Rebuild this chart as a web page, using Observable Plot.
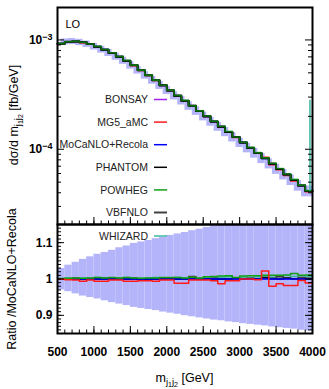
<!DOCTYPE html>
<html><head><meta charset="utf-8">
<script src="https://cdn.jsdelivr.net/npm/d3@7"></script>
<script src="https://cdn.jsdelivr.net/npm/@observablehq/plot@0.6"></script>
<style>
body{margin:0;background:#fff;font-family:"Liberation Sans",Arial,Helvetica,sans-serif;}
#wrap{position:relative;width:329px;height:389px;overflow:hidden;background:#fff;}
#wrap svg{position:absolute;left:0;}
.ttl{position:absolute;font-size:12.5px;white-space:nowrap;color:#000;line-height:1;}
.ttl sub{font-size:0.75em;vertical-align:-0.3em;line-height:0;}
</style></head><body>
<div id="wrap"></div>
<script>
// ---- data ----
const binEdges = [500,600,700,800,900,1000,1100,1200,1300,1400,1500,1600,1700,1800,1900,2000,2100,2200,2300,2400,2500,2600,2700,2800,2900,3000,3100,3200,3300,3400,3500,3600,3700,3800,3900,4000];
const central = [9.25e-4,9.61e-4,9.69e-4,9.51e-4,9.15e-4,8.68e-4,8.15e-4,7.60e-4,7.03e-4,6.46e-4,5.86e-4,5.28e-4,4.75e-4,4.28e-4,3.84e-4,3.45e-4,3.09e-4,2.78e-4,2.49e-4,2.24e-4,2.00e-4,1.79e-4,1.61e-4,1.44e-4,1.29e-4,1.15e-4,1.03e-4,9.23e-5,8.25e-5,7.38e-5,6.60e-5,5.87e-5,5.23e-5,4.65e-5,4.14e-5];
// ratio-panel uncertainty band (relative)
const bandLow = [0.970,0.965,0.959,0.953,0.949,0.945,0.940,0.935,0.931,0.927,0.922,0.919,0.916,0.913,0.909,0.906,0.903,0.899,0.896,0.893,0.890,0.887,0.885,0.882,0.880,0.877,0.875,0.873,0.871,0.868,0.866,0.864,0.862,0.859,0.857];
const bandHigh = [1.029,1.038,1.046,1.054,1.061,1.068,1.073,1.079,1.086,1.091,1.098,1.102,1.106,1.111,1.115,1.120,1.124,1.128,1.133,1.137,1.142,1.146,1.151,1.155,1.159,1.163,1.167,1.171,1.175,1.179,1.183,1.187,1.191,1.195,1.199];
// upper-panel error boxes: relative half-height
const topBoxHalf = [0.062,0.064,0.065,0.067,0.068,0.070,0.071,0.073,0.074,0.076,0.077,0.079,0.080,0.082,0.083,0.085,0.086,0.088,0.089,0.091,0.092,0.094,0.095,0.097,0.098,0.100,0.101,0.103,0.104,0.106,0.107,0.109,0.110,0.112,0.113];

const ratioBONSAY = [0.999,1.000,0.999,1.001,1.000,0.999,1.000,1.001,0.999,1.000,1.000,0.999,1.001,1.000,0.999,1.000,1.001,0.999,1.000,1.001,0.999,1.000,1.001,1.000,0.999,1.001,1.000,0.999,1.002,1.000,0.999,1.001,1.000,0.999,1.000];
const ratioMG5 = [0.999,0.998,0.997,0.994,0.997,0.994,0.994,0.997,0.997,0.994,0.994,0.995,0.995,0.994,0.997,0.997,0.988,0.988,0.997,0.997,0.997,0.995,0.987,0.995,0.995,1.000,1.000,0.998,1.022,0.980,0.987,0.982,0.982,0.996,0.989];
const ratioMoCaNLO = [1,1,1,1,1,1,1,1,1,1,1,1,1,1,1,1,1,1,1,1,1,1,1,1,1,1,1,1,1,1,1,1,1,1,1];
const ratioPHANTOM = [1.000,1.001,0.999,1.000,1.001,1.000,1.000,1.001,1.000,0.999,1.000,1.001,1.000,1.000,1.001,1.000,0.999,1.001,1.002,1.000,1.001,1.000,0.999,1.001,1.002,1.000,1.001,1.000,1.003,1.001,1.000,1.002,1.001,1.000,1.001];
const ratioPOWHEG = [1.001,1.002,1.003,1.002,1.003,1.004,1.003,1.004,1.003,1.004,1.003,1.002,1.003,1.003,1.004,1.004,1.004,1.003,1.005,1.003,1.006,1.007,1.008,1.009,1.004,1.008,1.009,1.009,1.010,1.010,1.010,1.011,1.015,1.010,1.011];
const ratioVBFNLO = [1.001,1.000,1.002,1.000,0.999,1.001,1.002,1.000,1.001,1.000,1.002,1.000,0.999,1.001,1.000,1.002,1.001,1.000,1.007,1.001,1.000,1.002,1.001,0.999,1.003,1.001,1.002,1.000,1.004,1.002,1.006,1.003,1.001,1.004,1.002];
const ratioWHIZARD = [1.002,1.003,1.002,1.003,1.002,1.004,1.003,1.002,1.003,1.004,1.003,1.002,1.003,1.004,1.003,1.002,1.004,1.003,1.005,1.002,1.004,1.003,1.004,1.006,1.003,1.005,1.004,1.006,1.007,1.005,1.006,1.004,1.007,1.005,1.006];
const whizardSpike = [{x: 3965, y1: 4.14e-5, y2: 2.8e-4}];

const seriesNames = ["BONSAY","MG5_aMC","MoCaNLO+Recola","PHANTOM","POWHEG","VBFNLO","WHIZARD"];
const seriesColors = ["#a020f0","#ff1a1a","#0000ff","#000000","#10a010","#404040","#3cb8a0"];
const seriesRatios = [ratioBONSAY,ratioMG5,ratioMoCaNLO,ratioPHANTOM,ratioPOWHEG,ratioVBFNLO,ratioWHIZARD];

const xTickLabels = [500,1000,1500,2000,2500,3000,3500,4000];
const yTopTicks = [1e-4,1e-3];
const yBottomTicks = [0.9,1,1.1];

// ---- derived tables ----
const bins = central.map((v,i)=>{
  const c = i+1 < central.length ? central[i+1] : v;
  return {lo: binEdges[i], hi: binEdges[i+1], v, bl: bandLow[i], bh: bandHigh[i],
          t1: c*(1-topBoxHalf[i]), t2: c*(1+topBoxHalf[i])};
});
function stepPts(r){
  const pts = r.map((q,i)=>({x: binEdges[i], r: q, y: central[i]*q}));
  const n = r.length-1;
  pts.push({x: binEdges[n+1], r: r[n], y: central[n]*r[n]});
  return pts;
}
const S = {}; seriesNames.forEach((n,i)=>S[n] = {pts: stepPts(seriesRatios[i]), color: seriesColors[i]});

const band = "#b4b4fb";
const W = 329, ML = 57, MR = 17;
const xMinor = d3.range(500, 4001, 100);
const yTopMinor = []; [1e-5,1e-4,1e-3].forEach(b=>{for(let k=2;k<=9;k++){const v=k*b; if(v>2.05e-5 && v<1.98e-3) yTopMinor.push(v);}});
const yBotMinor = d3.range(86,115).map(d=>d/100);
const font = '"Liberation Sans", Arial, Helvetica, sans-serif';
const halfBin = 50;

const topH = 224, topMT = 7, topIH = topH - topMT, IW = W-ML-MR;
function ticks(xMaj, xMin, yMaj, yMin, ih){
  return [
    Plot.ruleX(xMaj, {insetTop: ih-7, stroke:"#000", strokeWidth:1}),
    Plot.ruleX(xMin, {insetTop: ih-3.5, stroke:"#000", strokeWidth:1}),
    Plot.ruleY(yMaj, {insetRight: IW-7, stroke:"#000", strokeWidth:1}),
    Plot.ruleY(yMaj, {insetLeft: IW-7, stroke:"#000", strokeWidth:1}),
    Plot.ruleY(yMin, {insetRight: IW-4, stroke:"#000", strokeWidth:1}),
    Plot.ruleY(yMin, {insetLeft: IW-4, stroke:"#000", strokeWidth:1})
  ];
}
const topOrder = ["BONSAY","MG5_aMC","MoCaNLO+Recola","WHIZARD","VBFNLO","PHANTOM","POWHEG"];
const topPlot = Plot.plot({
  width: W, height: topH, marginLeft: ML, marginRight: MR, marginTop: topMT, marginBottom: 0,
  x: {domain: [500,4000], axis: null},
  y: {type: "log", domain: [2.05e-5, 1.98e-3], axis: null},
  style: {fontFamily: font, fontSize: "12px", background: "transparent", overflow: "visible"},
  marks: [
    Plot.rect(bins, {x1: d=>d.lo+halfBin, x2: d=>d.hi+halfBin, y1: "t1", y2: "t2", fill: band, clip: true}),
    ...topOrder.map(n=>Plot.line(S[n].pts, {x:"x", y:"y", curve:"step-after", stroke: S[n].color,
       strokeWidth: n==="PHANTOM"?2:1.6, strokeOpacity: n==="POWHEG"?0.7:1})),
    Plot.ruleX(whizardSpike, {x:"x", y1:"y1", y2:"y2", stroke: seriesColors[6], strokeWidth: 1.5}),
    ...ticks(xTickLabels, xMinor, yTopTicks, yTopMinor, topIH),
    Plot.axisY({ticks: yTopTicks, tickSize: 0, tickPadding: 5, fontWeight: "bold", fontSize: 12, tickFormat: d=>"10^"+Math.round(Math.log10(d)), label: null}),
    Plot.text(["LO"], {frameAnchor:"top-left", dx: 8, dy: 13, fontSize: 11, text: d=>d}),
    Plot.frame({stroke:"#000", strokeWidth: 2})
  ]
});

const botH = 165, botMB = 56, botIH = botH - botMB;
const botOrder = ["WHIZARD","BONSAY","VBFNLO","PHANTOM","MoCaNLO+Recola","POWHEG","MG5_aMC"];
const botPlot = Plot.plot({
  width: W, height: botH, marginLeft: ML, marginRight: MR, marginTop: 0, marginBottom: botMB,
  x: {domain: [500,4000], axis: null},
  y: {domain: [0.85,1.15], axis: null},
  style: {fontFamily: font, fontSize: "12px", background: "transparent", overflow: "visible"},
  marks: [
    Plot.rect(bins, {x1:"lo", x2:"hi", y1: "bl", y2: "bh", fill: band, clip: true}),
    ...botOrder.map(n=>Plot.line(S[n].pts, {x:"x", y:"r", curve:"step-after", stroke: S[n].color,
       strokeWidth: 1.5, clip: true})),
    ...ticks(xTickLabels, xMinor, yBottomTicks, yBotMinor, botIH),
    Plot.axisX({ticks: xTickLabels, tickSize: 0, tickPadding: 14, fontWeight: "bold", fontSize: 12, label: null, tickFormat: d=>String(d)}),
    Plot.axisY({ticks: yBottomTicks, tickSize: 0, tickPadding: 5, fontWeight: "bold", fontSize: 12, label: null, tickFormat: d=>String(d)}),
    Plot.frame({stroke:"#000", strokeWidth: 2})
  ]
});

const wrap = document.getElementById("wrap");
topPlot.style.top = "0px"; botPlot.style.top = topH + "px";
wrap.appendChild(botPlot); wrap.appendChild(topPlot);

// superscript exponents
d3.select(topPlot).selectAll('g[aria-label="y-axis tick label"] text').each(function(){
  const t = this.textContent; if (!t.includes("^")) return;
  const [b,e] = t.split("^");
  const sel = d3.select(this); sel.text("");
  sel.append("tspan").text(b);
  sel.append("tspan").attr("dy","-0.45em").attr("font-size","0.75em").text(e.replace("-","\u2212"));
});

// legend
function legendItem(svg, name, color, cy, thick){
  const g = d3.select(svg).append("g").attr("font-family", font).attr("font-size", 10.5);
  g.append("text").attr("x", 148).attr("y", cy).attr("dy","0.35em").attr("text-anchor","end").attr("fill","#222").text(name);
  g.append("line").attr("x1",154).attr("x2",167).attr("y1",cy).attr("y2",cy).attr("stroke",color).attr("stroke-width", thick||1.5);
}
seriesNames.slice(0,6).forEach((n,i)=>legendItem(topPlot, n, seriesColors[i], 99.5 + i*22.6, n==="VBFNLO"?2:1.5));
legendItem(botPlot, seriesNames[6], seriesColors[6], 236 - topH);

// axis titles
function ttl(html, x, y, rot){
  const d = document.createElement("div"); d.className = "ttl"; d.innerHTML = html;
  d.style.left = x+"px"; d.style.top = y+"px";
  d.style.transform = "translate(-50%,-50%)" + (rot ? " rotate(-90deg)" : "");
  wrap.appendChild(d);
}
ttl('d\u03c3/d m<sub>j<sub>1</sub>j<sub>2</sub></sub> [fb/GeV]', 14, 115, true);
ttl('Ratio /MoCaNLO+Recola', 12, 279, true);
ttl('m<sub>j<sub>1</sub>j<sub>2</sub></sub> [GeV]', 184.5, 378, false);
</script>
</body></html>
